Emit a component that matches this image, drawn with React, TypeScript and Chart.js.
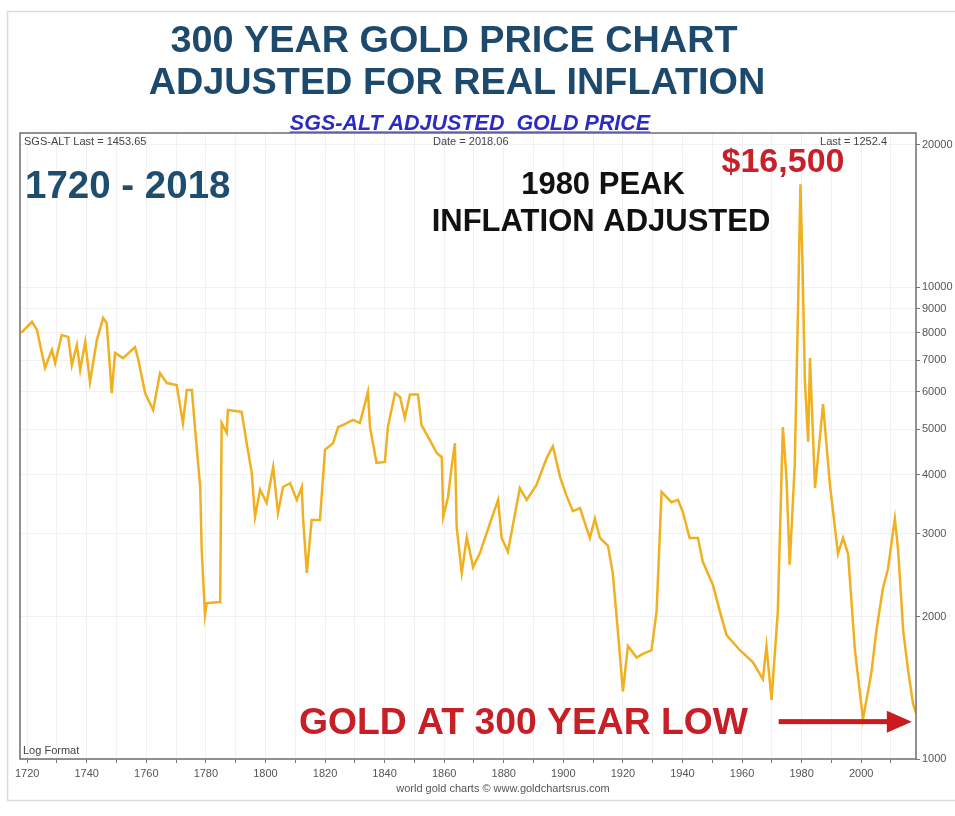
import React, { useEffect, useRef } from 'react';
import { Chart, registerables } from 'chart.js';

Chart.register(...registerables);

const years = [
  1718, 1721.6, 1723.3, 1726.0, 1728.3, 1729.4, 1731.6, 1733.8, 1735.0, 1736.7,
  1737.8, 1739.5, 1741.1, 1743.4, 1745.5, 1746.7, 1748.4, 1749.5, 1752.2, 1756.2,
  1757.2, 1759.6, 1762.3, 1764.6, 1766.9, 1770.2, 1772.3, 1773.6, 1775.3, 1776.4,
  1778.1, 1778.6, 1779.7, 1780.3, 1784.8, 1785.3, 1787.0, 1787.4, 1792.0, 1793.7,
  1795.4, 1796.5, 1798.2, 1800.4, 1802.6, 1804.2, 1805.9, 1808.3, 1810.5, 1812.2,
  1812.6, 1813.9, 1815.5, 1818.3, 1820.0, 1822.7, 1824.4, 1827.3, 1829.4, 1831.7,
  1834.4, 1835.1, 1837.3, 1840.1, 1841.1, 1843.5, 1845.2, 1846.8, 1848.5, 1851.2,
  1852.4, 1855.2, 1857.5, 1859.2, 1859.7, 1861.3, 1862.5, 1863.6, 1864.2, 1865.9,
  1867.6, 1869.7, 1872.0, 1875.4, 1878.1, 1879.3, 1881.4, 1885.4, 1887.7, 1891.0,
  1894.4, 1896.5, 1898.9, 1901.1, 1903.2, 1905.6, 1908.9, 1910.6, 1912.3, 1915.0,
  1916.6, 1918.3, 1920.0, 1921.7, 1924.6, 1926.7, 1929.6, 1931.3, 1933.0, 1936.3,
  1938.5, 1940.1, 1942.4, 1945.2, 1946.8, 1950.2, 1952.6, 1954.8, 1959.3, 1963.6,
  1967.0, 1968.2, 1969.9, 1972.0, 1973.7, 1974.9, 1976.0, 1977.7, 1978.7, 1979.6,
  1980.3, 1981.1, 1982.2, 1982.8, 1984.5, 1987.2, 1989.5, 1992.2, 1993.9, 1995.6,
  1997.9, 2000.6, 2003.4, 2005.1, 2007.3, 2009.0, 2011.3, 2012.4, 2014.1, 2015.7,
  2017.4, 2018.4,
];

const prices = [
  8000, 8440, 8110, 6740, 7360, 6900, 7910, 7840, 6830, 7540,
  6670, 7650, 6290, 7720, 8600, 8390, 5960, 7250, 7070, 7460,
  7070, 5960, 5490, 6570, 6260, 6200, 5150, 6050, 6050, 4980,
  3770, 2770, 2020, 2140, 2150, 5150, 4910, 5490, 5440, 4670,
  4040, 3260, 3720, 3490, 4160, 3320, 3770, 3840, 3540, 3770,
  3260, 2480, 3210, 3210, 4520, 4670, 5050, 5150, 5230, 5150,
  5990, 5050, 4240, 4260, 5050, 5960, 5850, 5280, 5920, 5920,
  5100, 4740, 4450, 4360, 3260, 3590, 4160, 4670, 3100, 2480,
  2950, 2550, 2730, 3160, 3540, 2940, 2750, 3750, 3540, 3810,
  4340, 4600, 3960, 3610, 3350, 3400, 2940, 3230, 2940, 2830,
  2480, 1870, 1390, 1735, 1640, 1670, 1700, 2050, 3680, 3500,
  3540, 3340, 2940, 2940, 2620, 2340, 2050, 1830, 1700, 1605,
  1477, 1735, 1334, 2050, 5050, 3960, 2580, 4200, 8390, 16500,
  11130, 6320, 4700, 7070, 3750, 5650, 3810, 2720, 2940, 2720,
  1700, 1215, 1520, 1870, 2300, 2530, 3230, 2770, 1870, 1550,
  1310, 1252,
];

const xTickYears = [1720, 1730, 1740, 1750, 1760, 1770, 1780, 1790, 1800, 1810, 1820, 1830, 1840, 1850, 1860, 1870, 1880, 1890, 1900, 1910, 1920, 1930, 1940, 1950, 1960, 1970, 1980, 1990, 2000, 2010];
const xLabelYears = [1720, 1740, 1760, 1780, 1800, 1820, 1840, 1860, 1880, 1900, 1920, 1940, 1960, 1980, 2000];
const yTickValues = [1000, 2000, 3000, 4000, 5000, 6000, 7000, 8000, 9000, 10000, 20000];

const arrowStartYear = 1972.3;
const arrowHeadBaseYear = 2008.6;
const arrowTipYear = 2017.0;
const arrowPrice = 1200;

const FONT = '"Liberation Sans", Arial, Helvetica, sans-serif';

const annotationPlugin = {
  id: 'annotations',
  beforeDraw(chart: any) {
    const ctx = chart.ctx;
    ctx.save();
    ctx.fillStyle = '#ffffff';
    ctx.fillRect(0, 0, chart.width, chart.height);
    ctx.strokeStyle = '#dcdcdc';
    ctx.lineWidth = 1.5;
    ctx.strokeRect(7.5, 11.5, chart.width + 10, 789);
    ctx.restore();
  },
  afterDraw(chart: any) {
    const ctx = chart.ctx;
    const area = chart.chartArea;
    const xs = chart.scales.x;
    const ys = chart.scales.y;
    ctx.save();

    // plot border
    ctx.strokeStyle = '#6e6e6e';
    ctx.lineWidth = 1.5;
    ctx.strokeRect(area.left, area.top, area.right - area.left, area.bottom - area.top);

    // titles
    ctx.textAlign = 'center';
    ctx.textBaseline = 'alphabetic';
    ctx.fillStyle = '#1d4a6c';
    ctx.font = `bold 37.8px ${FONT}`;
    ctx.fillText('300 YEAR GOLD PRICE CHART', 454, 52);
    ctx.fillText('ADJUSTED FOR REAL INFLATION', 457, 94);

    // subtitle
    ctx.fillStyle = '#2b2bc4';
    ctx.font = `italic bold 21.5px ${FONT}`;
    const sub = 'SGS-ALT ADJUSTED  GOLD PRICE';
    ctx.fillText(sub, 470, 130);
    const sw = ctx.measureText(sub).width;
    ctx.strokeStyle = '#2b2bc4';
    ctx.lineWidth = 1.2;
    ctx.beginPath();
    ctx.moveTo(470 - sw / 2, 132);
    ctx.lineTo(470 + sw / 2, 132);
    ctx.stroke();

    // small info texts
    ctx.fillStyle = '#444';
    ctx.font = `11px ${FONT}`;
    ctx.textAlign = 'left';
    ctx.fillText('SGS-ALT Last = 1453.65', 24, 145);
    ctx.fillText('Date = 2018.06', 433, 145);
    ctx.textAlign = 'right';
    ctx.fillText('Last = 1252.4', 887, 145);
    ctx.textAlign = 'left';
    ctx.fillText('Log Format', 23, 754);
    ctx.textAlign = 'center';
    ctx.fillStyle = '#555';
    ctx.fillText('world gold charts \u00A9 www.goldchartsrus.com', 503, 792);

    // big annotations
    ctx.textAlign = 'left';
    ctx.fillStyle = '#1e4d6e';
    ctx.font = `bold 38.5px ${FONT}`;
    ctx.fillText('1720 - 2018', 25, 198);

    ctx.textAlign = 'center';
    ctx.fillStyle = '#111';
    ctx.font = `bold 31px ${FONT}`;
    ctx.fillText('1980 PEAK', 603, 194);
    ctx.fillText('INFLATION ADJUSTED', 601, 231);

    ctx.fillStyle = '#c8202a';
    ctx.font = `bold 34px ${FONT}`;
    ctx.fillText('$16,500', 783, 172);

    ctx.textAlign = 'left';
    ctx.fillStyle = '#c81e26';
    ctx.font = `bold 37.3px ${FONT}`;
    ctx.fillText('GOLD AT 300 YEAR LOW', 299, 734);

    // arrow
    const ay = ys.getPixelForValue(arrowPrice);
    const ax0 = xs.getPixelForValue(arrowStartYear);
    const axb = xs.getPixelForValue(arrowHeadBaseYear);
    const axt = xs.getPixelForValue(arrowTipYear);
    ctx.fillStyle = '#cc1b1f';
    ctx.fillRect(ax0, ay - 2.5, axb - ax0 + 1, 5);
    ctx.beginPath();
    ctx.moveTo(axb, ay - 11);
    ctx.lineTo(axt, ay);
    ctx.lineTo(axb, ay + 11);
    ctx.closePath();
    ctx.fill();

    ctx.restore();
  },
};

export default function App() {
  const canvasRef = useRef<HTMLCanvasElement | null>(null);

  useEffect(() => {
    if (!canvasRef.current) return;
    Chart.defaults.font.family = FONT;
    const points = years.map((yr, i) => ({ x: yr, y: prices[i] }));
    const chart = new Chart(canvasRef.current, {
      type: 'line',
      data: {
        datasets: [
          {
            label: 'SGS-ALT Adjusted Gold Price',
            data: points,
            borderColor: '#f0b020',
            borderWidth: 2.5,
            pointRadius: 0,
            tension: 0,
            fill: false,
          },
        ],
      },
      options: {
        responsive: false,
        animation: false,
        devicePixelRatio: 1,
        layout: { padding: { left: 20, top: 133, right: 0, bottom: 0 } },
        plugins: {
          legend: { display: false },
          tooltip: { enabled: false },
          title: { display: false },
        },
        scales: {
          x: {
            type: 'linear',
            min: 1717.6,
            max: 2018.4,
            afterBuildTicks: (scale: any) => {
              scale.ticks = xTickYears.map((v) => ({ value: v }));
            },
            afterFit: (scale: any) => {
              scale.height = 57;
            },
            border: { display: false },
            grid: {
              color: '#f1f1f1',
              lineWidth: 1,
              tickColor: '#777',
              tickLength: 4,
            },
            ticks: {
              autoSkip: false,
              maxRotation: 0,
              padding: 4,
              color: '#555',
              font: { size: 11 },
              callback: (v: any) => (xLabelYears.includes(Number(v)) ? String(v) : ''),
            },
          },
          y: {
            type: 'logarithmic',
            position: 'right',
            min: 1000,
            max: 21200,
            afterBuildTicks: (scale: any) => {
              scale.ticks = yTickValues.map((v) => ({ value: v }));
            },
            afterFit: (scale: any) => {
              scale.width = 39;
            },
            border: { display: false },
            grid: {
              color: '#f1f1f1',
              lineWidth: 1,
              tickColor: '#777',
              tickLength: 4,
            },
            ticks: {
              autoSkip: false,
              padding: 2,
              color: '#555',
              font: { size: 11 },
              callback: (v: any) => String(v),
            },
          },
        },
      },
      plugins: [annotationPlugin],
    });
    return () => chart.destroy();
  }, []);

  return (
    <div style={{ position: 'fixed', left: 0, top: 0, width: 955, height: 816, background: '#fff' }}>
      <canvas ref={canvasRef} width={955} height={816} style={{ width: 955, height: 816, display: 'block' }} />
    </div>
  );
}
